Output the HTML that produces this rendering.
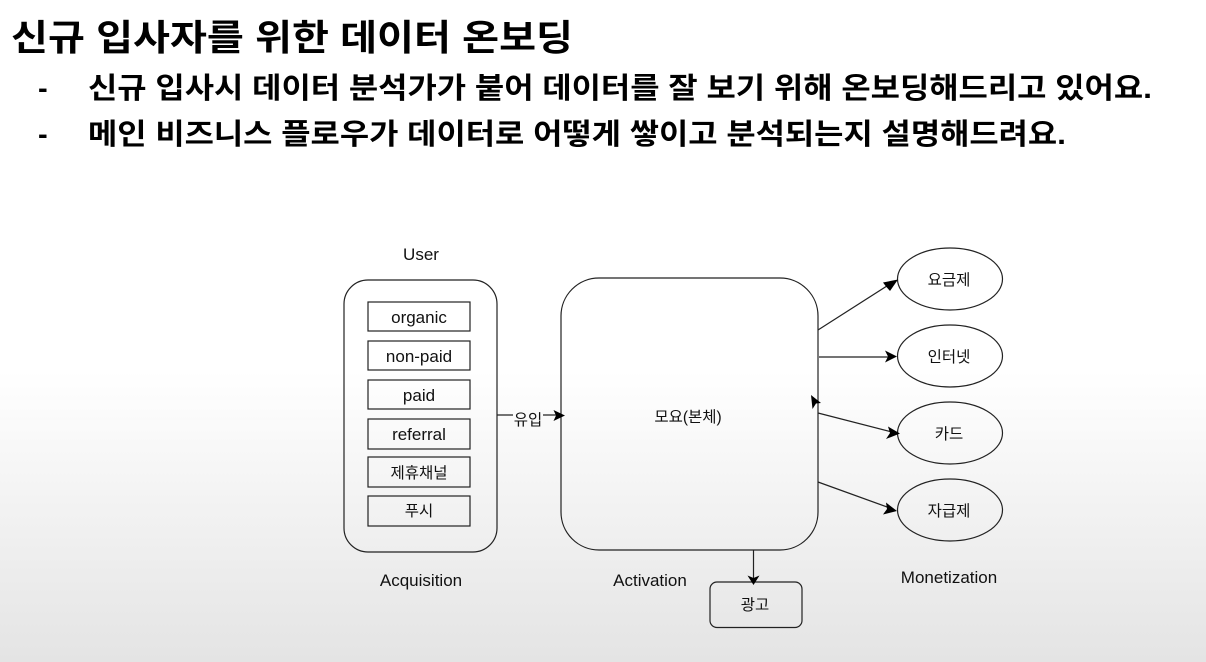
<!DOCTYPE html>
<html><head><meta charset="utf-8"><style>
html,body{margin:0;padding:0;background:#fff}
svg{display:block}
text{font-family:"Liberation Sans","Noto Sans CJK KR",sans-serif;fill:#111}
.h{font-weight:700;fill:#000}
.l{font-size:17px}
</style></head><body>
<svg width="1206" height="662" viewBox="0 0 1206 662" xmlns="http://www.w3.org/2000/svg">
<defs><linearGradient id="g" x1="0" y1="0" x2="0" y2="1">
<stop offset="0" stop-color="#fff"/><stop offset="0.56" stop-color="#fff"/><stop offset="1" stop-color="#e4e4e4"/></linearGradient></defs>
<rect width="1206" height="662" fill="url(#g)"/>
<text class="h" x="11" y="50" font-size="36" textLength="562" lengthAdjust="spacingAndGlyphs">신규 입사자를 위한 데이터 온보딩</text>
<text class="h" x="38" y="98" font-size="29">-</text>
<text class="h" x="88" y="98" font-size="29" textLength="1064" lengthAdjust="spacingAndGlyphs">신규 입사시 데이터 분석가가 붙어 데이터를 잘 보기 위해 온보딩해드리고 있어요.</text>
<text class="h" x="38" y="144" font-size="29">-</text>
<text class="h" x="88" y="144" font-size="29" textLength="978" lengthAdjust="spacingAndGlyphs">메인 비즈니스 플로우가 데이터로 어떻게 쌓이고 분석되는지 설명해드려요.</text>
<g fill="none" stroke="#222" stroke-width="1.2">
<rect x="344" y="280" width="153" height="272" rx="24"/>
<rect x="561" y="278" width="257" height="272" rx="38"/>
<rect x="368" y="302" width="102" height="29"/>
<rect x="368" y="341" width="102" height="29"/>
<rect x="368" y="380" width="102" height="29"/>
<rect x="368" y="419" width="102" height="30"/>
<rect x="368" y="457" width="102" height="30"/>
<rect x="368" y="496" width="102" height="30"/>
<ellipse cx="950" cy="279" rx="52.500" ry="31"/>
<ellipse cx="950" cy="356" rx="52.500" ry="31"/>
<ellipse cx="950" cy="433" rx="52.500" ry="31"/>
<ellipse cx="950" cy="510" rx="52.500" ry="31"/>
<rect x="710" y="582" width="92" height="45.500" rx="7"/>
<path d="M497 415H513M543 415H556"/>
<path d="M818 330L890 284"/>
<path d="M819 357H888"/>
<path d="M818 413L892 432"/>
<path d="M818 482L890 508"/>
<path d="M753.500 550V578"/>
</g>
<g fill="#000">
<path d="M565 415.500L553.500 410L556 415.500L553.500 421Z"/>
<path d="M898 279.500L883 282.500L886 286.500L890 291Z"/>
<path d="M897 356.500L885 350.500L888 356.500L885 362.500Z"/>
<path d="M900 433.500L888 426.500L890 433L886 439Z"/>
<path d="M897 511L886 502.500L887 509L883 514.500Z"/>
<path d="M753.500 585L747.500 575.500L753.500 578L759.500 575.500Z"/>
<path d="M811 395L812.500 409L816 403.500L821 403Z"/>
</g>
<g font-size="15.500" text-anchor="middle">
<text class="l" x="421" y="260">User</text>
<text class="l" x="419" y="323">organic</text>
<text class="l" x="419" y="362">non-paid</text>
<text class="l" x="419" y="401">paid</text>
<text class="l" x="419" y="440">referral</text>
<text x="419" y="478">제휴채널</text>
<text x="419" y="516">푸시</text>
<text x="528" y="425">유입</text>
<text x="688" y="422">모요(본체)</text>
<text x="949" y="285">요금제</text>
<text x="949" y="362">인터넷</text>
<text x="949" y="439">카드</text>
<text x="949" y="516">자급제</text>
<text x="755" y="610">광고</text>
<text class="l" x="421" y="586">Acquisition</text>
<text class="l" x="650" y="586">Activation</text>
<text class="l" x="949" y="583">Monetization</text>
</g>
</svg>
</body></html>
